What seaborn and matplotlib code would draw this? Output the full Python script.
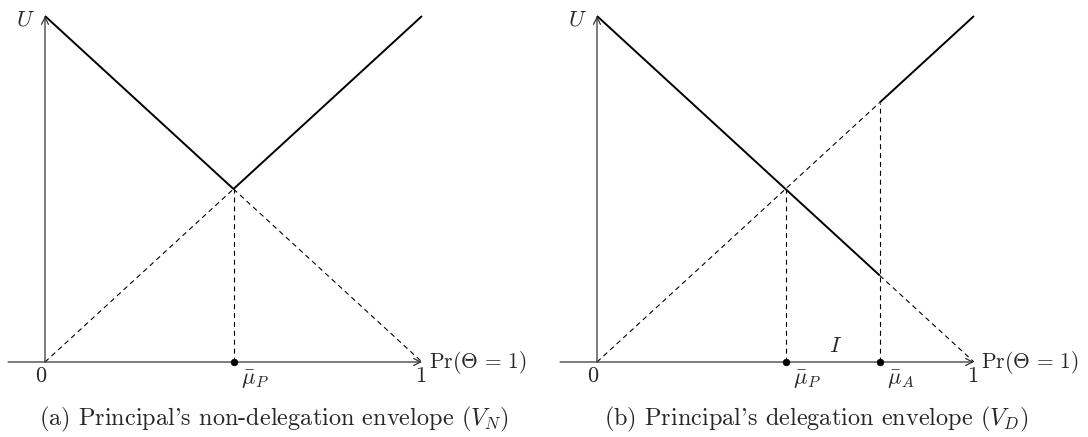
import matplotlib
matplotlib.use("Agg")
import matplotlib.pyplot as plt
import seaborn as sns
import pandas as pd

sns.set_style("white")
plt.rcParams['font.family'] = ['serif']
plt.rcParams['font.serif'] = ['cmr10', 'DejaVu Serif']
plt.rcParams['mathtext.fontset'] = 'cm'
plt.rcParams['axes.unicode_minus'] = False

# ---- data (unit square) ----
mu_P = 0.5
mu_A = 0.75
# panel (a)
a_env_x = [0.0, 0.5, 1.0]
a_env_y = [1.0, 0.5, 1.0]
a_dash1_x = [0.0, 0.5]
a_dash1_y = [0.0, 0.5]
a_dash2_x = [0.5, 1.0]
a_dash2_y = [0.5, 0.0]
# panel (b)
b_env1_x = [0.0, 0.75]
b_env1_y = [1.0, 0.25]
b_env2_x = [0.75, 1.0]
b_env2_y = [0.75, 1.0]
b_dash1_x = [0.0, 0.75]
b_dash1_y = [0.0, 0.75]
b_dash2_x = [0.75, 1.0]
b_dash2_y = [0.25, 0.0]

captions = ["(a) Principal's non-delegation envelope ($V_N$)",
            "(b) Principal's delegation envelope ($V_D$)"]

W, H = 1088, 437
fig = plt.figure(figsize=(W / 100, H / 100), dpi=100)

SX, SY = 377.0, 346.0
OY = 362.0

def make_ax(left_px, right_px, ox):
    ax = fig.add_axes([left_px / W, 0, (right_px - left_px) / W, 1])
    ax.set_xlim((left_px - ox) / SX, (right_px - ox) / SX)
    ax.set_ylim((OY - H) / SY, OY / SY)
    ax.axis('off')
    return ax

axA = make_ax(0, 544, 45)
axB = make_ax(544, 1088, 597)

DASH = (0, (4.5, 3.5))
FS = 16
CFS = 17.5

def seg(ax, xs, ys, ls='-', lw=1.4):
    df = pd.DataFrame({'x': xs, 'y': ys})
    sns.lineplot(data=df, x='x', y='y', ax=ax, estimator=None, sort=False,
                 color='black', linewidth=lw)
    ln = ax.lines[-1]
    ln.set_linestyle(ls)
    ln.set_solid_capstyle('butt')
    ln.set_dash_capstyle('butt')

def axes_arrows(ax):
    kw = dict(arrowstyle='->,head_length=0.5,head_width=0.25', color='#333333',
              lw=0.9, shrinkA=0, shrinkB=0, mutation_scale=10)
    ax.annotate('', xy=(1.0, 0), xytext=(-0.098, 0), arrowprops=kw)
    ax.annotate('', xy=(0, 1.0), xytext=(0, 0), arrowprops=kw)
    ax.text(-0.027, 0.99, '$U$', fontsize=FS, ha='right', va='center')
    ax.text(-0.012, -0.040, '0', fontsize=FS, ha='center', va='center')
    ax.text(0.997, -0.040, '1', fontsize=FS, ha='center', va='center')
    ax.text(1.018, 0.0, r'$\mathrm{Pr}(\Theta\,=\,1)$', fontsize=15.5, ha='left', va='center')

def dot(ax, x, lab):
    sns.scatterplot(x=[x], y=[0.0], ax=ax, color='black', s=24, edgecolor='black', zorder=5)
    ax.text(x + 0.020, -0.052, lab, fontsize=FS, ha='left', va='center')

# panel a
axes_arrows(axA)
seg(axA, a_dash1_x, a_dash1_y, DASH, 0.8)
seg(axA, a_dash2_x, a_dash2_y, DASH, 0.8)
seg(axA, [mu_P, mu_P], [0.0, 0.5], DASH, 0.8)
seg(axA, a_env_x, a_env_y)
dot(axA, mu_P, r'$\bar{\mu}_P$')
axA.text(0.607, -0.165, captions[0], fontsize=CFS, ha='center', va='center')

# panel b
axes_arrows(axB)
seg(axB, b_dash1_x, b_dash1_y, DASH, 0.8)
seg(axB, b_dash2_x, b_dash2_y, DASH, 0.8)
seg(axB, [mu_P, mu_P], [0.0, 0.5], DASH, 0.8)
seg(axB, [mu_A, mu_A], [0.0, 0.75], DASH, 0.8)
seg(axB, b_env1_x, b_env1_y)
seg(axB, b_env2_x, b_env2_y)
dot(axB, mu_P, r'$\bar{\mu}_P$')
dot(axB, mu_A, r'$\bar{\mu}_A$')
axB.text(0.632, 0.045, '$I$', fontsize=FS, ha='center', va='center')
axB.text(0.581, -0.165, captions[1], fontsize=CFS, ha='center', va='center')

for ax in (axA, axB):
    if ax.get_legend():
        ax.get_legend().remove()

fig.savefig('out.png', dpi=100)
